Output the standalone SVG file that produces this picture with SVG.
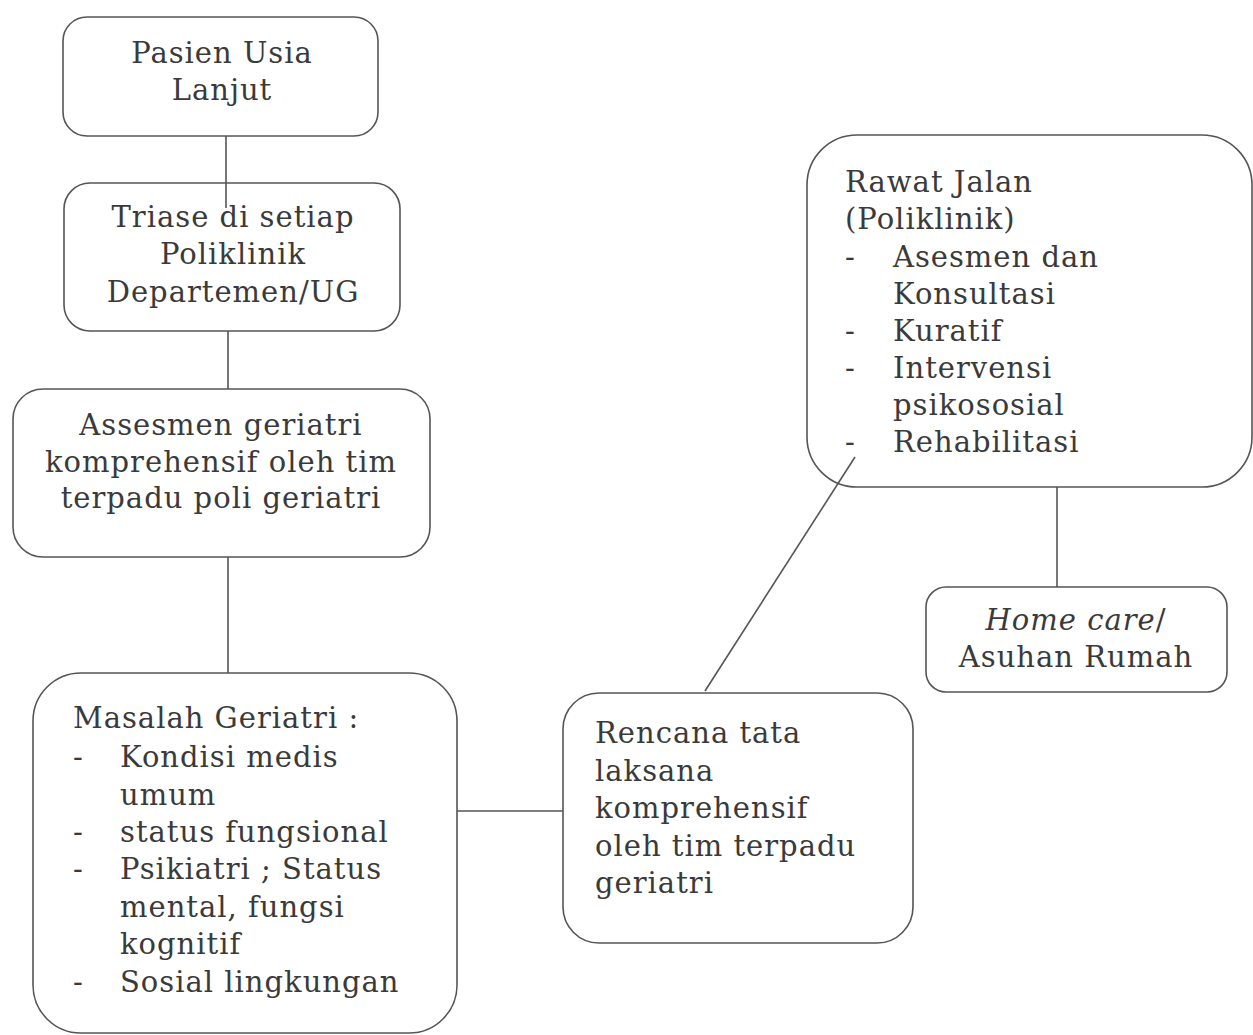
<svg xmlns="http://www.w3.org/2000/svg" width="1253" height="1035" viewBox="0 0 1253 1035">
  <style>
    .box { fill: #ffffff; stroke: #555555; stroke-width: 1.6; }
    .link { stroke: #555555; stroke-width: 1.6; fill: none; }
    text { font-family: "DejaVu Serif", "Liberation Serif", serif; font-size: 29px; fill: #3a3a3a; letter-spacing: 1px; }
    .c { text-anchor: middle; }
    .it { font-style: italic; }
  </style>
  <rect width="1253" height="1035" fill="#ffffff"/>

  <g id="node-pasien">
    <rect class="box" x="63" y="17" width="315" height="119" rx="24"/>
    <text class="c" x="222" y="63">Pasien Usia</text>
    <text class="c" x="222" y="100">Lanjut</text>
  </g>

  <g id="node-triase">
    <rect class="box" x="64" y="183" width="336" height="148" rx="26"/>
    <text class="c" x="233" y="227">Triase di setiap</text>
    <text class="c" x="233" y="264">Poliklinik</text>
    <text class="c" x="233" y="302">Departemen/UG</text>
  </g>

  <g id="node-assesmen">
    <rect class="box" x="13" y="389" width="417" height="168" rx="30"/>
    <text class="c" x="221" y="435">Assesmen geriatri</text>
    <text class="c" x="221" y="472">komprehensif oleh tim</text>
    <text class="c" x="221" y="508">terpadu poli geriatri</text>
  </g>

  <g id="node-masalah">
    <rect class="box" x="33" y="673" width="424" height="360" rx="48"/>
    <text x="73" y="728">Masalah Geriatri :</text>
    <text x="73" y="767">-</text><text x="120" y="767">Kondisi medis</text>
    <text x="120" y="805">umum</text>
    <text x="73" y="842">-</text><text x="120" y="842">status fungsional</text>
    <text x="73" y="879">-</text><text x="120" y="879">Psikiatri ; Status</text>
    <text x="120" y="917">mental, fungsi</text>
    <text x="120" y="954">kognitif</text>
    <text x="73" y="992">-</text><text x="120" y="992">Sosial lingkungan</text>
  </g>

  <g id="node-rencana">
    <rect class="box" x="563" y="693" width="350" height="250" rx="36"/>
    <text x="595" y="743">Rencana tata</text>
    <text x="595" y="781">laksana</text>
    <text x="595" y="818">komprehensif</text>
    <text x="595" y="856">oleh tim terpadu</text>
    <text x="595" y="893">geriatri</text>
  </g>

  <g id="node-rawat-jalan">
    <rect class="box" x="807" y="135" width="445" height="352" rx="50"/>
    <text x="845" y="192">Rawat Jalan</text>
    <text x="845" y="229">(Poliklinik)</text>
    <text x="845" y="267">-</text><text x="893" y="267">Asesmen dan</text>
    <text x="893" y="304">Konsultasi</text>
    <text x="845" y="341">-</text><text x="893" y="341">Kuratif</text>
    <text x="845" y="378">-</text><text x="893" y="378">Intervensi</text>
    <text x="893" y="415">psikososial</text>
    <text x="845" y="452">-</text><text x="893" y="452">Rehabilitasi</text>
  </g>

  <g id="node-home-care">
    <rect class="box" x="926" y="587" width="301" height="105" rx="20"/>
    <text class="c" x="1076" y="630"><tspan class="it">Home care</tspan>/</text>
    <text class="c" x="1076" y="667">Asuhan Rumah</text>
  </g>

  <g id="connectors">
    <line class="link" x1="226" y1="136" x2="226" y2="208"/>
    <line class="link" x1="228" y1="331" x2="228" y2="389"/>
    <line class="link" x1="228" y1="557" x2="228" y2="673"/>
    <line class="link" x1="457" y1="811" x2="563" y2="811"/>
    <line class="link" x1="705" y1="691" x2="855" y2="457"/>
    <line class="link" x1="1057" y1="487" x2="1057" y2="587"/>
  </g>
</svg>
